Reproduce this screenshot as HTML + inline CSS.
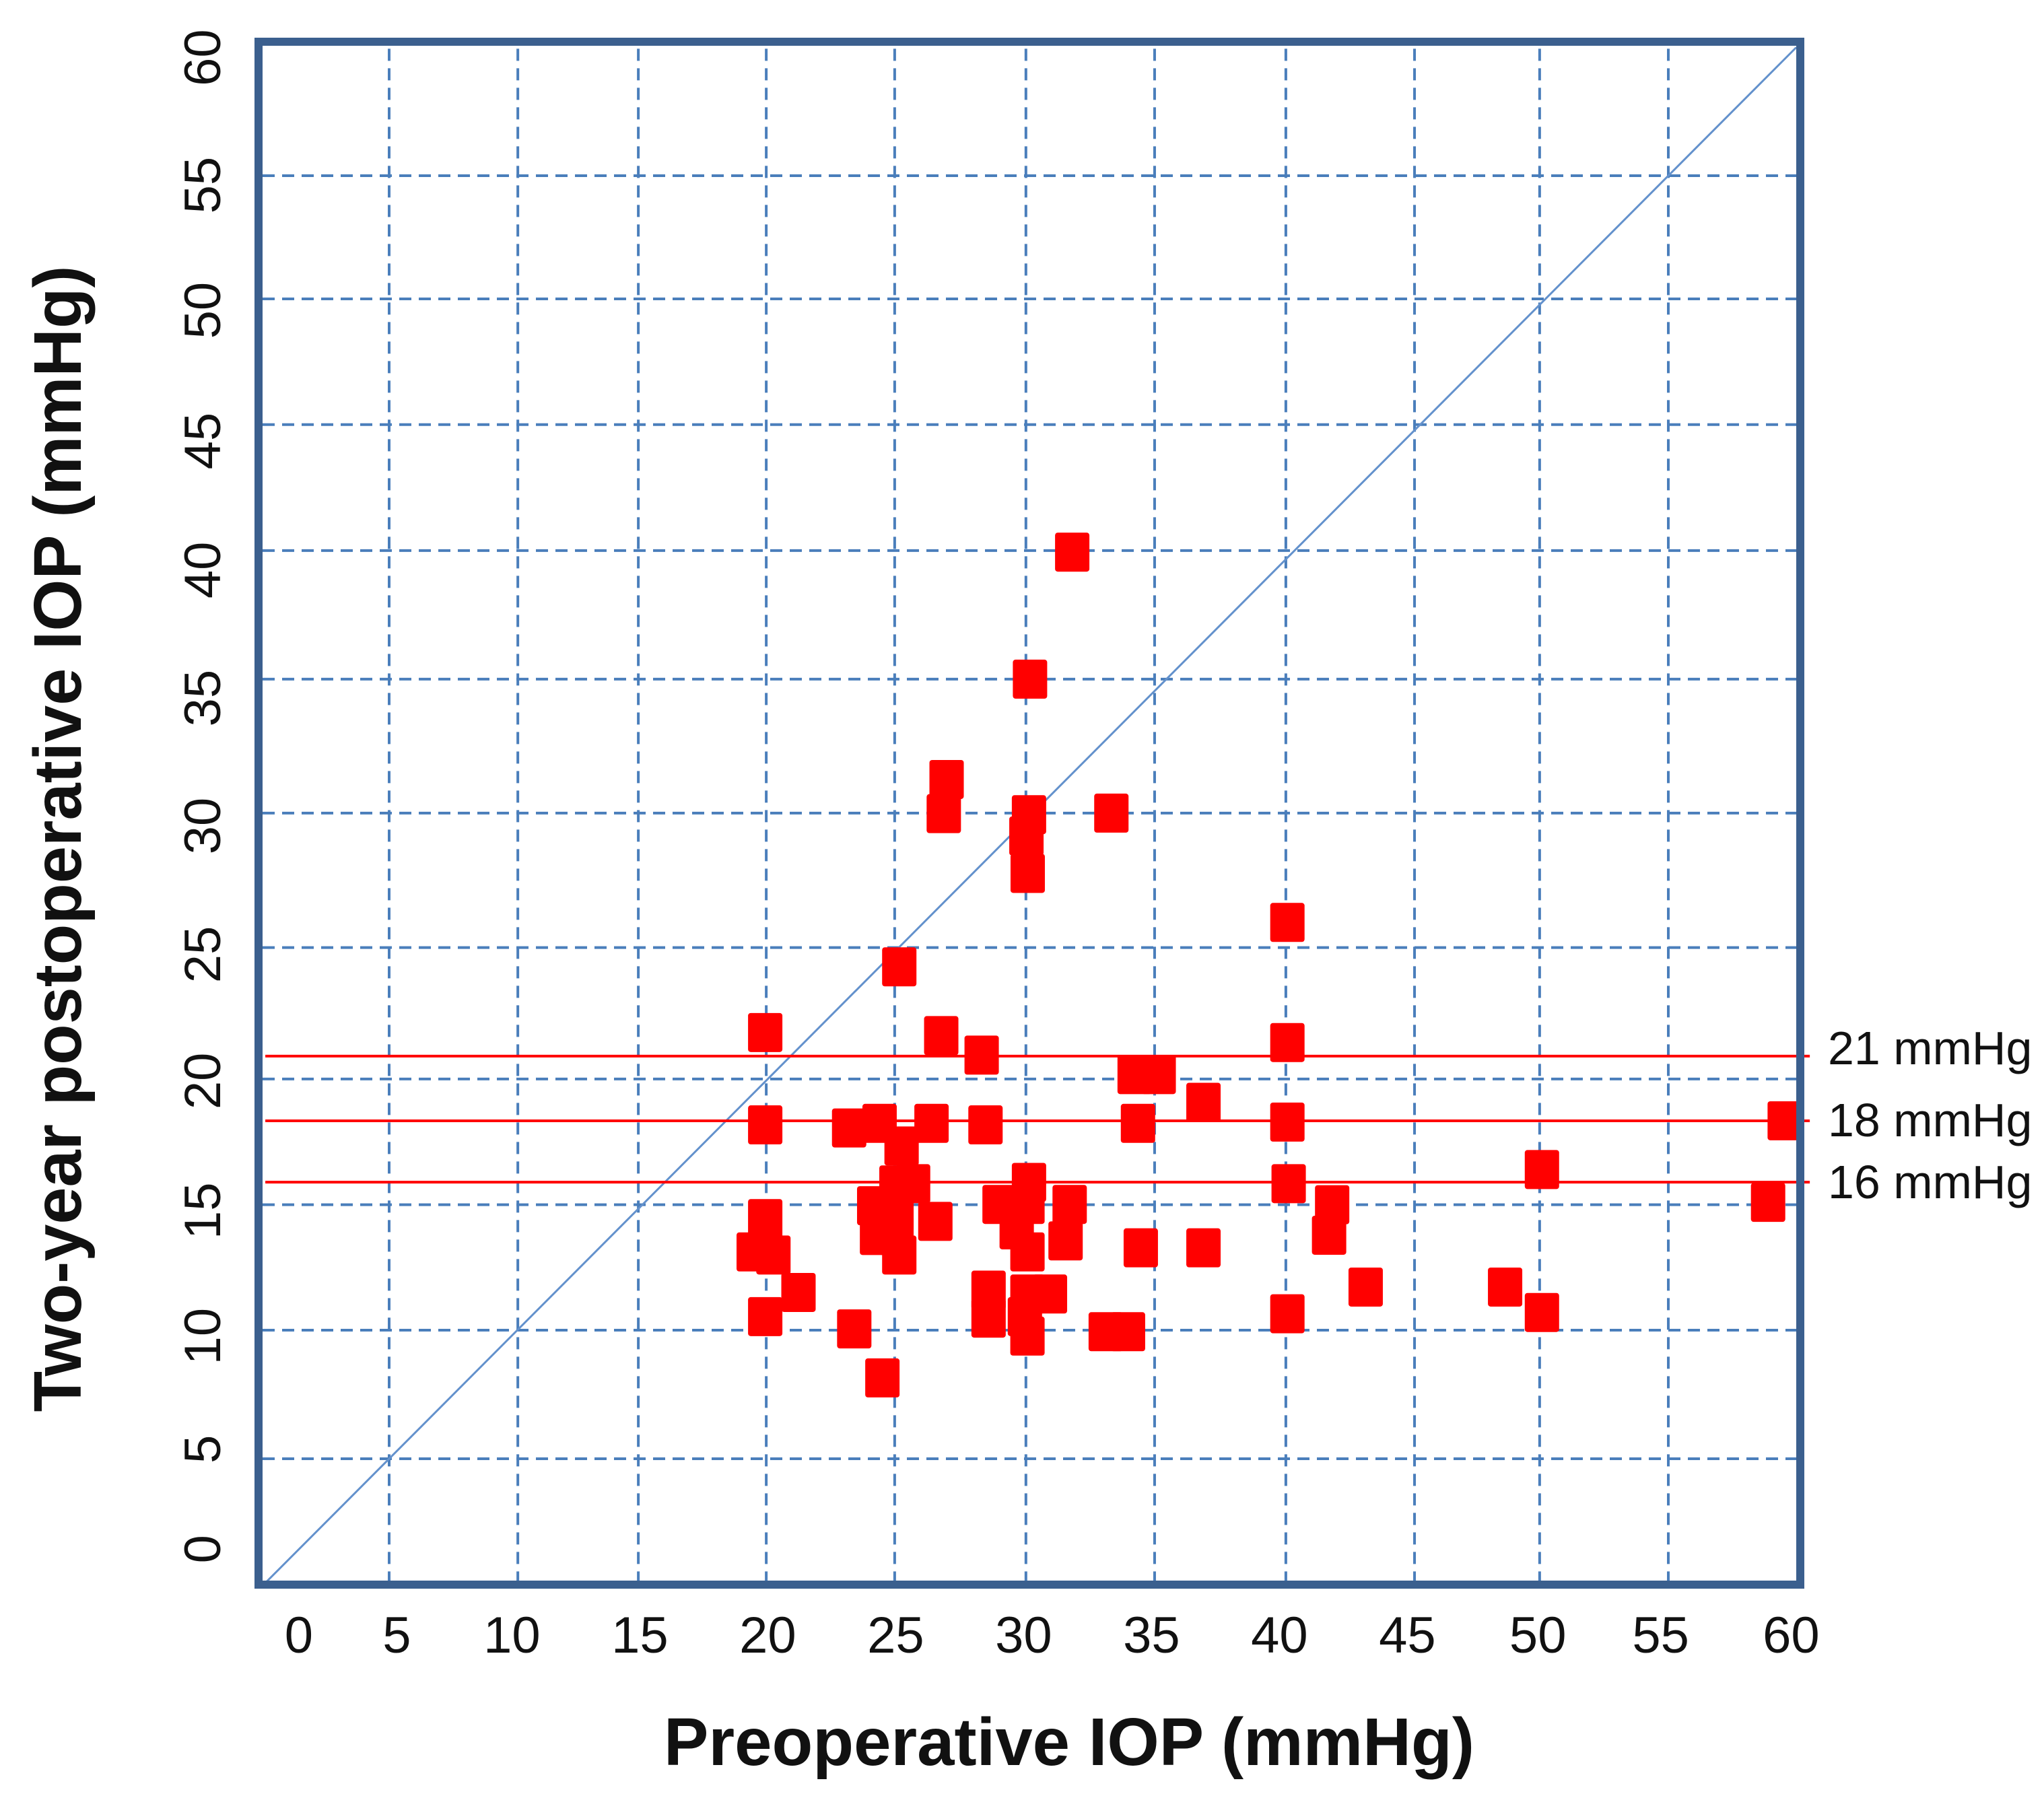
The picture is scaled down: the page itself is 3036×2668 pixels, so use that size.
<!DOCTYPE html>
<html lang="en">
<head>
<meta charset="utf-8">
<title>Preoperative vs two-year postoperative IOP</title>
<style>
html,body{margin:0;padding:0;background:#fff;}
svg{display:block;}
text{font-family:"Liberation Sans",sans-serif;fill:#111;}
</style>
</head>
<body>
<svg id="chart" xmlns="http://www.w3.org/2000/svg" width="3036" height="2668" viewBox="0 0 3036 2668">
  <rect x="0" y="0" width="3036" height="2668" fill="#ffffff"/>
  <g id="grid"></g>
  <g id="diagonal"></g>
  <g id="thresholds"></g>
  <g id="points"></g>
  <rect x="384" y="62" width="2290" height="2292" fill="none" stroke="#3b5f8e" stroke-width="12"/>
  <g id="xticks"></g>
  <g id="yticks"></g>
  <g id="thresholdLabels"></g>
  <text x="1588" y="2622" text-anchor="middle" font-size="100" font-weight="700" textLength="1204" lengthAdjust="spacingAndGlyphs" fill="#000">Preoperative IOP (mmHg)</text>
  <text transform="translate(120 1246) rotate(-90)" x="0" y="0" text-anchor="middle" font-size="100" font-weight="700" textLength="1703" lengthAdjust="spacingAndGlyphs" fill="#000">Two-year postoperative IOP (mmHg)</text>
</svg>
<script>
// Scatter values
const preopValues = [
  19.70,24.94,26.58,28.16,34.14,35.08,36.83,19.70,22.98,24.17,26.20,28.31,34.27,25.03,
  24.83,25.48,30.01,23.96,28.86,29.95,31.60,19.70,24.83,24.07,24.83,24.94,26.35,29.53,
  29.95,31.44,34.38,36.83,19.25,20.02,21.00,19.70,23.18,28.43,28.43,29.95,30.83,29.85,
  29.95,33.01,33.88,24.28,
  31.70,30.05,26.79,26.68,30.01,29.91,29.96,33.23,40.11,40.11,40.11,40.16,40.11,41.86,
  41.74,43.17,48.62,50.06,50.06,59.55,58.90
];
const postopValues = [
  21.61,24.17,21.49,20.73,19.97,19.97,18.89,18.01,17.89,18.07,18.07,18.01,18.07,17.19,
  15.67,15.72,15.77,14.86,14.91,14.91,14.91,14.36,14.58,13.70,13.70,12.94,14.25,13.92,
  13.06,13.49,13.22,13.22,13.06,12.94,11.48,10.54,10.06,11.57,10.48,11.42,11.42,10.54,
   9.78, 9.95, 9.95, 8.15,
  40.33,35.38,31.47,30.14,30.10,29.27,27.81,30.16,25.90,21.22,18.12,15.72,10.65,14.90,
  13.71,11.69,11.69,10.70,16.27,18.17,14.99
];
// Hand-placed grid lines (data units as they sit in the picture)
const xGridValues = [5,10.03,14.74,19.74,24.76,29.89,34.92,40.05,45.08,49.97,55];
const yGridValues = [5,10.01,14.90,19.80,24.92,30.16,35.38,40.39,45.30,50.20,55];
// Tick labels and where each one sits along its axis (data units)
const xTickLabels = ["0","5","10","15","20","25","30","35","40","45","50","55","60"];
const xTickSpots = [1.47,5.3,9.8,14.8,19.8,24.8,29.8,34.8,39.8,44.8,49.9,54.7,59.8];
const yTickLabels = ["0","5","10","15","20","25","30","35","40","45","50","55","60"];
const yTickSpots = [1.48,5.37,9.77,14.66,19.72,24.65,29.66,34.64,39.63,44.66,49.75,54.63,59.6];
// Threshold reference lines
const thresholdValues = [20.69,18.17,15.78];
const thresholdLabels = ["21 mmHg","18 mmHg","16 mmHg"];
const thresholdLabelSpots = [20.37,17.57,15.15];
const thresholdExtent = [0.16,60.53];
const identityExtent = [0,60];

const NS = "http://www.w3.org/2000/svg";
function xAxis(v){ return 388 + 38 * v; }
function yAxis(v){ return 2357.6 - 38.12 * v; }
function make(tag, attrs, parent, txt){
  const el = document.createElementNS(NS, tag);
  for (const k in attrs) el.setAttribute(k, attrs[k]);
  if (txt !== undefined) el.textContent = txt;
  parent.appendChild(el);
  return el;
}
const gridG = document.getElementById("grid");
xGridValues.forEach(function(v){
  const el = make("line",{x1:xAxis(v),x2:xAxis(v),y1:yAxis(60.0)+2,y2:yAxis(0)-8,stroke:"#4a7ebb","stroke-width":4,"stroke-dasharray":"18 11"},gridG);
  
  
});
yGridValues.forEach(function(v){
  const el = make("line",{x1:xAxis(0)+2,x2:xAxis(60),y1:yAxis(v),y2:yAxis(v),stroke:"#4a7ebb","stroke-width":4,"stroke-dasharray":"18 11"},gridG);
  
  
});
const diagEl = make("line",{x1:xAxis(identityExtent[0]),y1:yAxis(identityExtent[0]),x2:xAxis(identityExtent[1]),y2:yAxis(identityExtent[1]),stroke:"#6391cc","stroke-width":3},document.getElementById("diagonal"));



const thG = document.getElementById("thresholds");
thresholdValues.forEach(function(v){
  const el = make("line",{x1:xAxis(thresholdExtent[0]),x2:xAxis(thresholdExtent[1]),y1:yAxis(v),y2:yAxis(v),stroke:"#ff0000","stroke-width":4},thG);
  
  
});
const ptG = document.getElementById("points");
preopValues.forEach(function(v,i){
  const el = make("rect",{x:xAxis(v)-25.5,y:yAxis(postopValues[i])-29,width:51,height:58,rx:4,ry:4,fill:"#ff0000"},ptG);
  
  
});
const xtG = document.getElementById("xticks");
xTickLabels.forEach(function(t,i){
  const el = make("text",{x:xAxis(xTickSpots[i]),y:2455,"text-anchor":"middle","font-size":76},xtG,t);
  
  
});
const ytG = document.getElementById("yticks");
yTickLabels.forEach(function(t,i){
  const el = make("text",{transform:"translate(327 "+yAxis(yTickSpots[i])+") rotate(-90)","text-anchor":"middle","font-size":76},ytG,t);
  
  
});
const tlG = document.getElementById("thresholdLabels");
thresholdLabels.forEach(function(t,i){
  const el = make("text",{x:2715,y:yAxis(thresholdLabelSpots[i]),"font-size":70},tlG,t);
  
  
});
</script>
</body>
</html>
